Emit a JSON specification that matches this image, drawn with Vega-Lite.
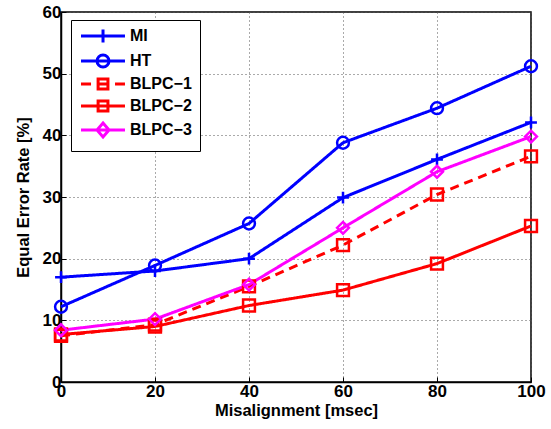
{
  "$schema": "https://vega.github.io/schema/vega-lite/v6.json",
  "width": 470,
  "height": 370,
  "autosize": "none",
  "padding": {"left": 61, "top": 12, "right": 20, "bottom": 47},
  "background": "white",
  "config": {
    "font": "Liberation Sans",
    "view": {"stroke": "black", "strokeWidth": 1.5},
    "axis": {
      "labelFont": "Liberation Sans",
      "labelFontSize": 17,
      "labelFontWeight": "bold",
      "labelColor": "black",
      "titleFont": "Liberation Sans",
      "titleFontSize": 16.5,
      "titleFontWeight": "bold",
      "titleColor": "black",
      "domainColor": "black",
      "domainWidth": 1.5,
      "tickColor": "black",
      "tickSize": -5,
      "tickWidth": 1,
      "gridColor": "#555555",
      "gridDash": [1, 3],
      "gridWidth": 1,
      "gridOpacity": 1
    }
  },
  "data": {
    "values": [
      {"series": "MI", "marker": "plus", "dash": "solid", "x": 0, "y": 17.0},
      {"series": "MI", "marker": "plus", "dash": "solid", "x": 20, "y": 18.0},
      {"series": "MI", "marker": "plus", "dash": "solid", "x": 40, "y": 20.0},
      {"series": "MI", "marker": "plus", "dash": "solid", "x": 60, "y": 29.9},
      {"series": "MI", "marker": "plus", "dash": "solid", "x": 80, "y": 36.1},
      {"series": "MI", "marker": "plus", "dash": "solid", "x": 100, "y": 42.1},
      {"series": "HT", "marker": "circle", "dash": "solid", "x": 0, "y": 12.2},
      {"series": "HT", "marker": "circle", "dash": "solid", "x": 20, "y": 18.9},
      {"series": "HT", "marker": "circle", "dash": "solid", "x": 40, "y": 25.7},
      {"series": "HT", "marker": "circle", "dash": "solid", "x": 60, "y": 38.8},
      {"series": "HT", "marker": "circle", "dash": "solid", "x": 80, "y": 44.4},
      {"series": "HT", "marker": "circle", "dash": "solid", "x": 100, "y": 51.2},
      {"series": "BLPC−1", "marker": "square", "dash": "dashed", "x": 0, "y": 7.5},
      {"series": "BLPC−1", "marker": "square", "dash": "dashed", "x": 20, "y": 9.3},
      {"series": "BLPC−1", "marker": "square", "dash": "dashed", "x": 40, "y": 15.5},
      {"series": "BLPC−1", "marker": "square", "dash": "dashed", "x": 60, "y": 22.2},
      {"series": "BLPC−1", "marker": "square", "dash": "dashed", "x": 80, "y": 30.4},
      {"series": "BLPC−1", "marker": "square", "dash": "dashed", "x": 100, "y": 36.6},
      {"series": "BLPC−2", "marker": "square", "dash": "solid", "x": 0, "y": 7.7},
      {"series": "BLPC−2", "marker": "square", "dash": "solid", "x": 20, "y": 9.0},
      {"series": "BLPC−2", "marker": "square", "dash": "solid", "x": 40, "y": 12.4},
      {"series": "BLPC−2", "marker": "square", "dash": "solid", "x": 60, "y": 14.9},
      {"series": "BLPC−2", "marker": "square", "dash": "solid", "x": 80, "y": 19.2},
      {"series": "BLPC−2", "marker": "square", "dash": "solid", "x": 100, "y": 25.3},
      {"series": "BLPC−3", "marker": "diamond", "dash": "solid", "x": 0, "y": 8.4},
      {"series": "BLPC−3", "marker": "diamond", "dash": "solid", "x": 20, "y": 10.2},
      {"series": "BLPC−3", "marker": "diamond", "dash": "solid", "x": 40, "y": 15.8},
      {"series": "BLPC−3", "marker": "diamond", "dash": "solid", "x": 60, "y": 25.0},
      {"series": "BLPC−3", "marker": "diamond", "dash": "solid", "x": 80, "y": 34.1},
      {"series": "BLPC−3", "marker": "diamond", "dash": "solid", "x": 100, "y": 39.8}
    ]
  },
  "encoding": {
    "x": {
      "field": "x",
      "type": "quantitative",
      "scale": {"domain": [0, 100], "nice": false},
      "axis": {"values": [0, 20, 40, 60, 80, 100], "title": "Misalignment [msec]", "labelPadding": 6, "titlePadding": 3, "labelFlush": false}
    },
    "y": {
      "field": "y",
      "type": "quantitative",
      "scale": {"domain": [0, 60], "nice": false},
      "axis": {"values": [0, 10, 20, 30, 40, 50, 60], "title": "Equal Error Rate [%]", "labelPadding": 5, "titlePadding": 11, "labelFlush": false}
    },
    "color": {
      "field": "series",
      "type": "nominal",
      "sort": ["MI", "HT", "BLPC−1", "BLPC−2", "BLPC−3"],
      "scale": {
        "domain": ["MI", "HT", "BLPC−1", "BLPC−2", "BLPC−3"],
        "range": ["#0000ff", "#0000ff", "#ff0000", "#ff0000", "#ff00ff"]
      },
      "legend": {
        "orient": "none",
        "legendX": 10,
        "legendY": 8,
        "title": null,
        "strokeColor": "black",
        "fillColor": "white",
        "padding": 8,
        "symbolSize": 144,
        "symbolStrokeWidth": 3,
        "symbolType": "circle",
        "labelFont": "Liberation Sans",
        "labelFontSize": 16,
        "labelFontWeight": "bold",
        "labelColor": "black",
        "labelOffset": 35,
        "rowPadding": 0,
        "encode": {
          "symbols": {
            "update": {
              "shape": {"signal": "datum.value === 'MI' ? 'M-1,0H6.33M2.67,-1.1V1.1' : datum.value === 'HT' ? 'M-1,0H6.33M1.67,0A1,1 0 1,0 3.67,0A1,1 0 1,0 1.67,0' : datum.value === 'BLPC−1' ? 'M-1,0H0.67M4.67,0H6.33M1.85,-0.82H3.49V0.82H1.85ZM1.85,0H3.49' : datum.value === 'BLPC−2' ? 'M-1,0H6.33M1.85,-0.82H3.49V0.82H1.85Z' : 'M-1,0H6.33M2.67,-1.15L3.67,0L2.67,1.15L1.67,0Z'"},
              "fill": {"value": "transparent"}
            }
          }
        }
      }
    }
  },
  "layer": [
    {
      "mark": {"type": "line", "strokeWidth": 3},
      "encoding": {
        "strokeDash": {
          "field": "dash",
          "type": "nominal",
          "scale": {"domain": ["solid", "dashed"], "range": [[1, 0], [9, 6]]},
          "legend": null
        }
      }
    },
    {
      "mark": {"type": "point", "filled": false, "strokeWidth": 2.5, "size": 140, "opacity": 1},
      "encoding": {
        "shape": {
          "field": "marker",
          "type": "nominal",
          "scale": {
            "domain": ["plus", "circle", "square", "diamond"],
            "range": ["M-1,0H1M0,-1V1", "circle", "square", "diamond"]
          },
          "legend": null
        }
      }
    }
  ]
}
